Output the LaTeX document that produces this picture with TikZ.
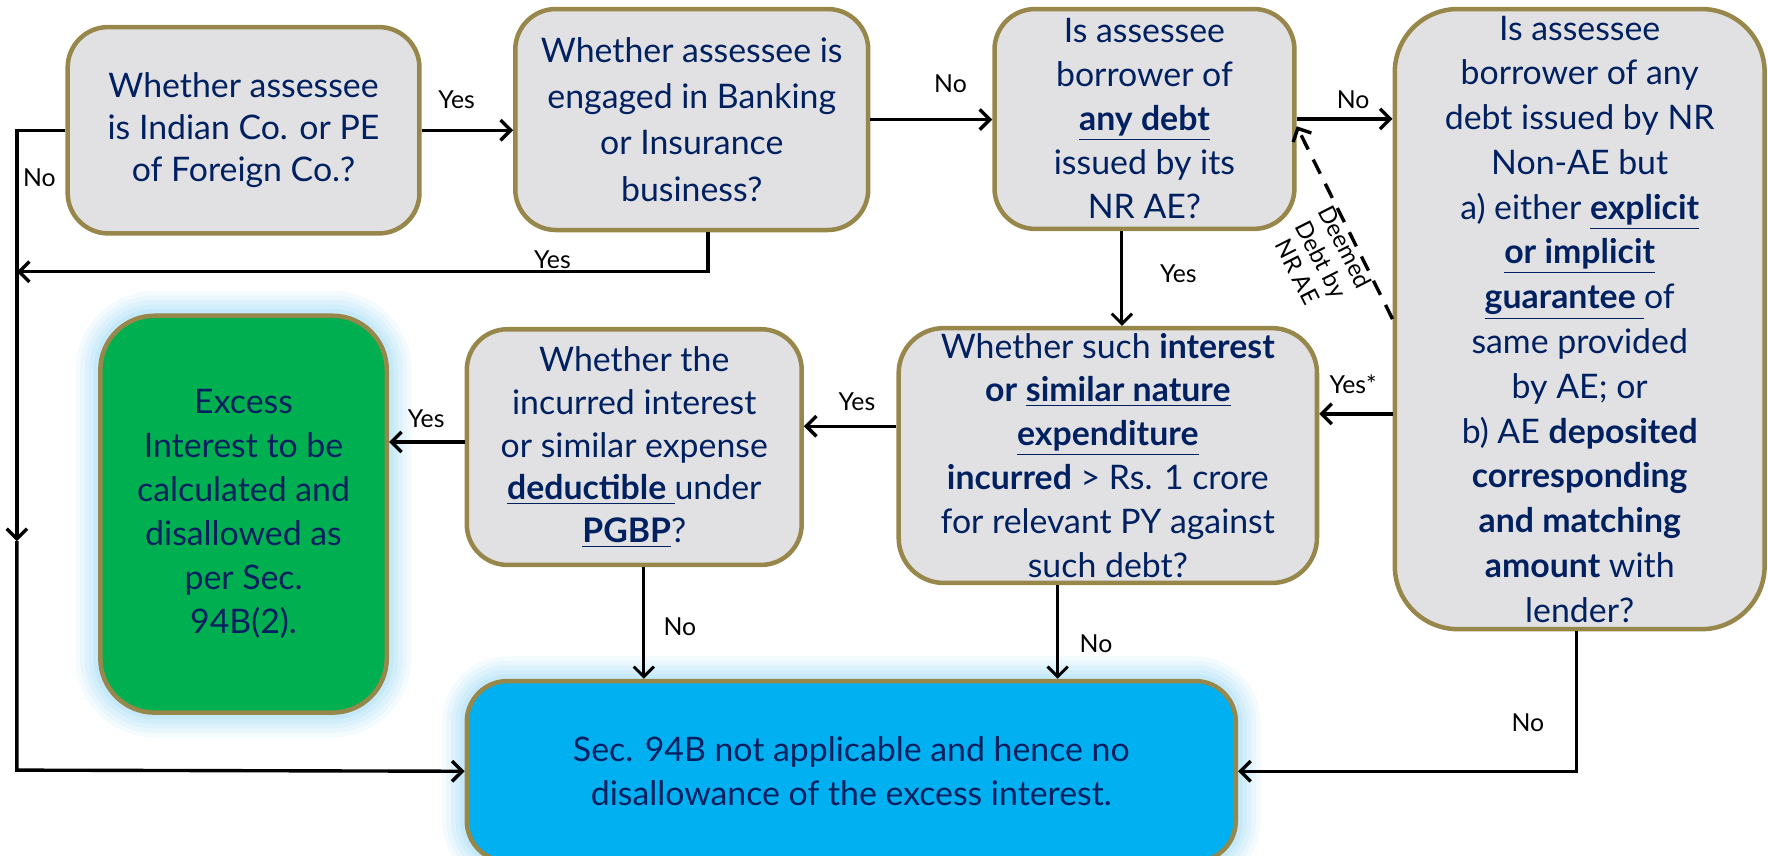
\documentclass[tikz,border=0pt]{standalone}
\usepackage{fontspec}
\setmainfont{Lato}
\usetikzlibrary{arrows.meta}
\definecolor{navy}{RGB}{0,32,96}
\definecolor{boxgray}{RGB}{225,225,228}
\definecolor{olive}{RGB}{152,135,75}
\definecolor{grn}{RGB}{0,176,80}
\definecolor{sky}{RGB}{0,176,240}
\definecolor{glowc}{RGB}{150,215,245}
\begin{document}
\begin{tikzpicture}[x=0.5pt,y=-0.5pt,
 qbox/.style={draw=olive, line width=2pt, fill=boxgray, rounded corners=18pt, align=center, text=navy, font=\fontsize{15}{19.5}\selectfont, inner sep=1pt},
 glow/.style={preaction={draw=glowc, draw opacity=0.1, line width=22pt}, preaction={draw=glowc, draw opacity=0.12, line width=18pt}, preaction={draw=glowc, draw opacity=0.14, line width=14pt}, preaction={draw=glowc, draw opacity=0.16, line width=10pt}, preaction={draw=glowc, draw opacity=0.2, line width=6pt}},
 arr/.style={line width=1.5pt, -{Straight Barb[length=4.5pt,width=9pt]}},
 lab/.style={font=\fontsize{11}{13}\selectfont, text=black, inner sep=1pt}
]
\useasboundingbox (0,0) rectangle (1568,759);

\node[qbox, glow, fill=grn, rounded corners=24pt, minimum width=127pt, minimum height=176pt] (b7) at (216,456) {Excess\\Interest to be\\calculated and\\disallowed as\\per Sec.\\94B(2).};
\node[qbox, glow, fill=sky, rounded corners=18pt, minimum width=341pt, minimum height=80pt] (b8) at (755,684) {Sec. 94B not applicable and hence no\\disallowance of the excess interest.};

\node[qbox, minimum width=156pt, minimum height=91.5pt, font=\fontsize{15}{18.75}\selectfont] (b1) at (216,115.5) {Whether assessee\\is Indian Co. or PE\\of Foreign Co.?};
\node[qbox, minimum width=156.5pt, minimum height=98pt, font=\fontsize{15}{20.5}\selectfont] (b2) at (613.5,106) {Whether assessee is\\engaged in Banking\\or Insurance\\business?};
\node[qbox, minimum width=133pt, minimum height=97.5pt] (b3) at (1015,105.5) {Is assessee\\borrower of\\\underline{\textbf{any debt}}\\issued by its\\NR AE?};
\node[qbox, rounded corners=28pt, inner sep=0pt, minimum width=164pt, minimum height=275pt, font=\fontsize{15}{19.85}\selectfont] (b4) at (1401,283) {Is assessee\\borrower of any\\debt issued by NR\\Non-AE but\\a) either \underline{\textbf{explicit}}\\\underline{\textbf{or implicit}}\\\underline{\textbf{guarantee }}of\\same provided\\by AE; or\\b) AE \textbf{deposited}\\\textbf{corresponding}\\\textbf{and matching}\\\textbf{amount} with\\lender?};
\node[qbox, rounded corners=20pt, minimum width=185.5pt, minimum height=113pt] (b5) at (982.5,404) {Whether such \textbf{interest}\\\textbf{or} \underline{\textbf{similar nature}}\\\underline{\textbf{expenditure}}\\\textbf{incurred} > Rs. 1 crore\\for relevant PY against\\such debt?};
\node[qbox, minimum width=148.5pt, minimum height=104.5pt, font=\fontsize{15}{19}\selectfont] (b6) at (562.5,396.5) {Whether the\\incurred interest\\or similar expense\\\underline{\textbf{deductible }}under\\\underline{\textbf{PGBP}}?};

\coordinate (lt) at (15,112);
\coordinate (lm) at (15,480);
\coordinate (lb) at (15,683);
\coordinate (yb) at (628,241);
\coordinate (c35) at (995,0);
\coordinate (y45) at (0,367);
\coordinate (y56) at (0,378);
\coordinate (y67) at (0,392);
\coordinate (x68) at (571,0);
\coordinate (x58) at (938,0);
\coordinate (x48) at (1398,0);

\draw[arr] (b1.east) -- (b2.west |- b1.east);
\draw[arr] (b2.east) -- (b3.west |- b2.east);
\draw[arr] (b3.east) -- (b4.west |- b3.east);
\draw[arr] (b1.west) -- (b1.west -| lt) -- (lm);
\draw[arr] (lm) -- (lb) -- (b8.west);
\draw[arr] (b2.south -| yb) -- (yb) -- (yb -| lt);
\draw[arr, line width=1.3pt] (b3.south -| c35) -- (b5.north -| c35);
\draw[arr] (b4.west |- y45) -- (b5.east |- y45);
\draw[arr] (b5.west |- y56) -- (b6.east |- y56);
\draw[arr] (b6.west |- y67) -- (b7.east |- y67);
\draw[arr, line width=1.3pt] (b6.south -| x68) -- (b8.north -| x68);
\draw[arr, line width=1.3pt] (b5.south -| x58) -- (b8.north -| x58);
\draw[arr] (b4.south -| x48) -- (x48 |- b8.east) -- (b8.east);
\draw[arr, dash pattern=on 7pt off 5pt] (b4.west) -- ([yshift=-3.25pt]b3.east);

\node[lab, rotate=-63, align=center, font=\fontsize{10.5}{12}\selectfont] (dl) at (1172,230) {Deemed\\Debt by\\NR AE};
\node[lab] (t1) at (405,88) {Yes};
\node[lab] (t2) at (843,74) {No};
\node[lab] (t3) at (1200,88) {No};
\node[lab] (t4) at (35,158) {No};
\node[lab] (t5) at (490,230) {Yes};
\node[lab] (t6) at (1045,243) {Yes};
\node[lab] (t7) at (1200,341) {Yes*};
\node[lab] (t8) at (760,356) {Yes};
\node[lab] (t9) at (378,371) {Yes};
\node[lab] (t10) at (603,556) {No};
\node[lab] (t11) at (972,571) {No};
\node[lab] (t12) at (1355,641) {No};
\end{tikzpicture}
\end{document}
